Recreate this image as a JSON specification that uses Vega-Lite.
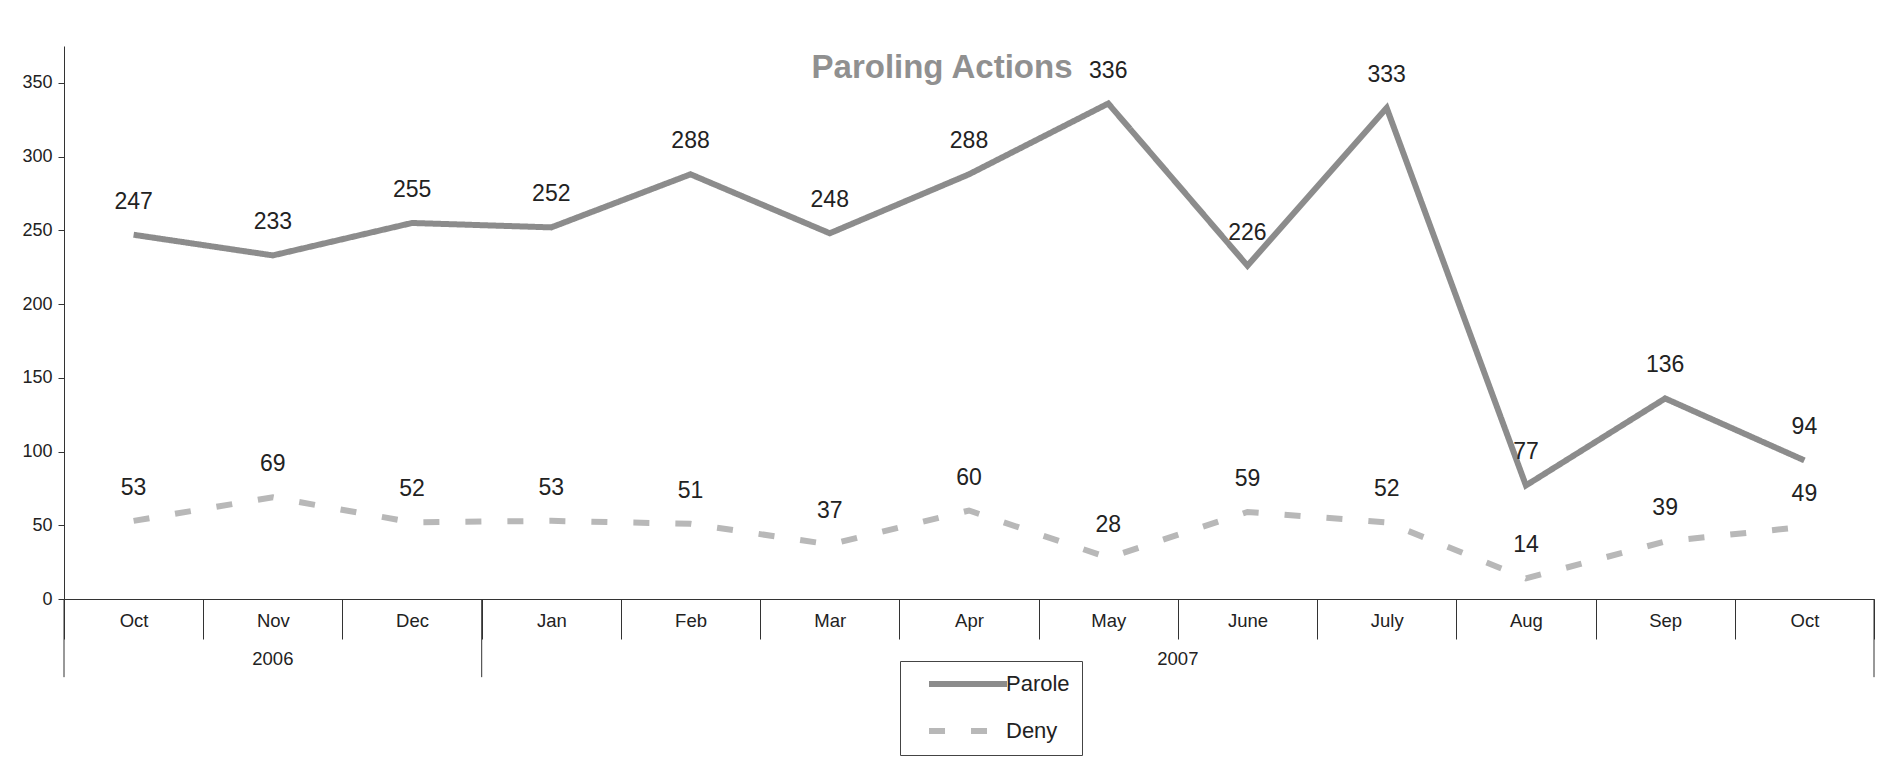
{
  "$schema": "https://vega.github.io/schema/vega-lite/v6.json",
  "width": 1810,
  "height": 553,
  "autosize": {"type": "none"},
  "padding": {"left": 64, "top": 46, "right": 27, "bottom": 169},
  "background": "white",
  "config": {"view": {"stroke": null}, "font": "Liberation Sans"},
  "title": {"text": "Paroling Actions", "fontSize": 33, "fontWeight": "bold", "color": "#909090", "anchor": "middle", "dx": -27, "offset": -65, "baseline": "alphabetic", "font": "Liberation Sans"},
  "datasets": {
    "main": [
      {"month": "Oct 2006", "series": "Parole", "value": 247},
      {"month": "Nov 2006", "series": "Parole", "value": 233},
      {"month": "Dec 2006", "series": "Parole", "value": 255},
      {"month": "Jan 2007", "series": "Parole", "value": 252},
      {"month": "Feb 2007", "series": "Parole", "value": 288},
      {"month": "Mar 2007", "series": "Parole", "value": 248},
      {"month": "Apr 2007", "series": "Parole", "value": 288},
      {"month": "May 2007", "series": "Parole", "value": 336},
      {"month": "June 2007", "series": "Parole", "value": 226},
      {"month": "July 2007", "series": "Parole", "value": 333},
      {"month": "Aug 2007", "series": "Parole", "value": 77},
      {"month": "Sep 2007", "series": "Parole", "value": 136},
      {"month": "Oct 2007", "series": "Parole", "value": 94},
      {"month": "Oct 2006", "series": "Deny", "value": 53},
      {"month": "Nov 2006", "series": "Deny", "value": 69},
      {"month": "Dec 2006", "series": "Deny", "value": 52},
      {"month": "Jan 2007", "series": "Deny", "value": 53},
      {"month": "Feb 2007", "series": "Deny", "value": 51},
      {"month": "Mar 2007", "series": "Deny", "value": 37},
      {"month": "Apr 2007", "series": "Deny", "value": 60},
      {"month": "May 2007", "series": "Deny", "value": 28},
      {"month": "June 2007", "series": "Deny", "value": 59},
      {"month": "July 2007", "series": "Deny", "value": 52},
      {"month": "Aug 2007", "series": "Deny", "value": 14},
      {"month": "Sep 2007", "series": "Deny", "value": 39},
      {"month": "Oct 2007", "series": "Deny", "value": 49}
    ],
    "edges": [
      {"at": "Oct 2006", "edge": "start"},
      {"at": "Jan 2007", "edge": "start"},
      {"at": "Oct 2007", "edge": "end"}
    ],
    "years": [
      {"at": "Nov 2006", "year": "2006", "place": "center"},
      {"at": "June 2007", "year": "2007", "place": "start"}
    ]
  },
  "layer": [
    {
      "data": {"name": "main"},
      "mark": {"type": "line", "strokeWidth": 6},
      "encoding": {
        "x": {
          "field": "month", "type": "nominal",
          "scale": {"type": "band", "paddingInner": 0, "paddingOuter": 0,
            "domain": ["Oct 2006", "Nov 2006", "Dec 2006", "Jan 2007", "Feb 2007", "Mar 2007", "Apr 2007", "May 2007", "June 2007", "July 2007", "Aug 2007", "Sep 2007", "Oct 2007"]},
          "axis": {"title": null, "tickBand": "extent", "tickSize": 40, "labelPadding": -28, "labelFontSize": 18.5, "labelColor": "#222222", "labelAngle": 0, "labelExpr": "datum.value ? split(datum.value, ' ')[0] : ''", "domainColor": "#333333", "tickColor": "#333333", "grid": false}
        },
        "y": {
          "field": "value", "type": "quantitative",
          "scale": {"domain": [0, 375], "nice": false},
          "axis": {"title": null, "values": [0, 50, 100, 150, 200, 250, 300, 350], "tickSize": 6, "labelPadding": 6, "labelFontSize": 18, "labelColor": "#222222", "domainColor": "#333333", "tickColor": "#333333", "grid": false}
        },
        "color": {
          "field": "series", "type": "nominal",
          "scale": {"domain": ["Parole", "Deny"], "range": ["#8c8c8c", "#b8b8b8"]},
          "legend": {"title": null, "orient": "none", "legendX": 836, "legendY": 615, "strokeColor": "#444444", "fillColor": "white", "padding": 12, "symbolType": "M0.86,0H12", "symbolSize": 196, "symbolStrokeWidth": 6, "labelFontSize": 22, "labelColor": "#222222", "labelOffset": 72, "rowPadding": 23}
        },
        "strokeDash": {
          "field": "series", "type": "nominal",
          "scale": {"domain": ["Parole", "Deny"], "range": [[1, 0], [16, 26]]},
          "legend": {"title": null, "orient": "none", "legendX": 836, "legendY": 615}
        }
      }
    },
    {
      "data": {"name": "main"},
      "mark": {"type": "text", "fontSize": 23, "color": "#222222", "dy": -33, "baseline": "middle", "align": "center"},
      "encoding": {
        "x": {"field": "month", "type": "nominal"},
        "y": {"field": "value", "type": "quantitative"},
        "text": {"field": "value", "type": "quantitative"}
      }
    },
    {
      "data": {"name": "edges"},
      "transform": [{"filter": "datum.edge === 'start'"}],
      "mark": {"type": "rule", "color": "#333333", "strokeWidth": 1},
      "encoding": {
        "x": {"field": "at", "type": "nominal", "bandPosition": 0},
        "y": {"datum": 0},
        "y2": {"datum": -53}
      }
    },
    {
      "data": {"name": "edges"},
      "transform": [{"filter": "datum.edge === 'end'"}],
      "mark": {"type": "rule", "color": "#333333", "strokeWidth": 1},
      "encoding": {
        "x": {"field": "at", "type": "nominal", "bandPosition": 1},
        "y": {"datum": 0},
        "y2": {"datum": -53}
      }
    },
    {
      "data": {"name": "years"},
      "transform": [{"filter": "datum.place === 'center'"}],
      "mark": {"type": "text", "fontSize": 18.5, "color": "#222222", "baseline": "middle", "align": "center"},
      "encoding": {
        "x": {"field": "at", "type": "nominal", "bandPosition": 0.5},
        "y": {"datum": -41},
        "text": {"field": "year"}
      }
    },
    {
      "data": {"name": "years"},
      "transform": [{"filter": "datum.place === 'start'"}],
      "mark": {"type": "text", "fontSize": 18.5, "color": "#222222", "baseline": "middle", "align": "center"},
      "encoding": {
        "x": {"field": "at", "type": "nominal", "bandPosition": 0},
        "y": {"datum": -41},
        "text": {"field": "year"}
      }
    }
  ]
}
